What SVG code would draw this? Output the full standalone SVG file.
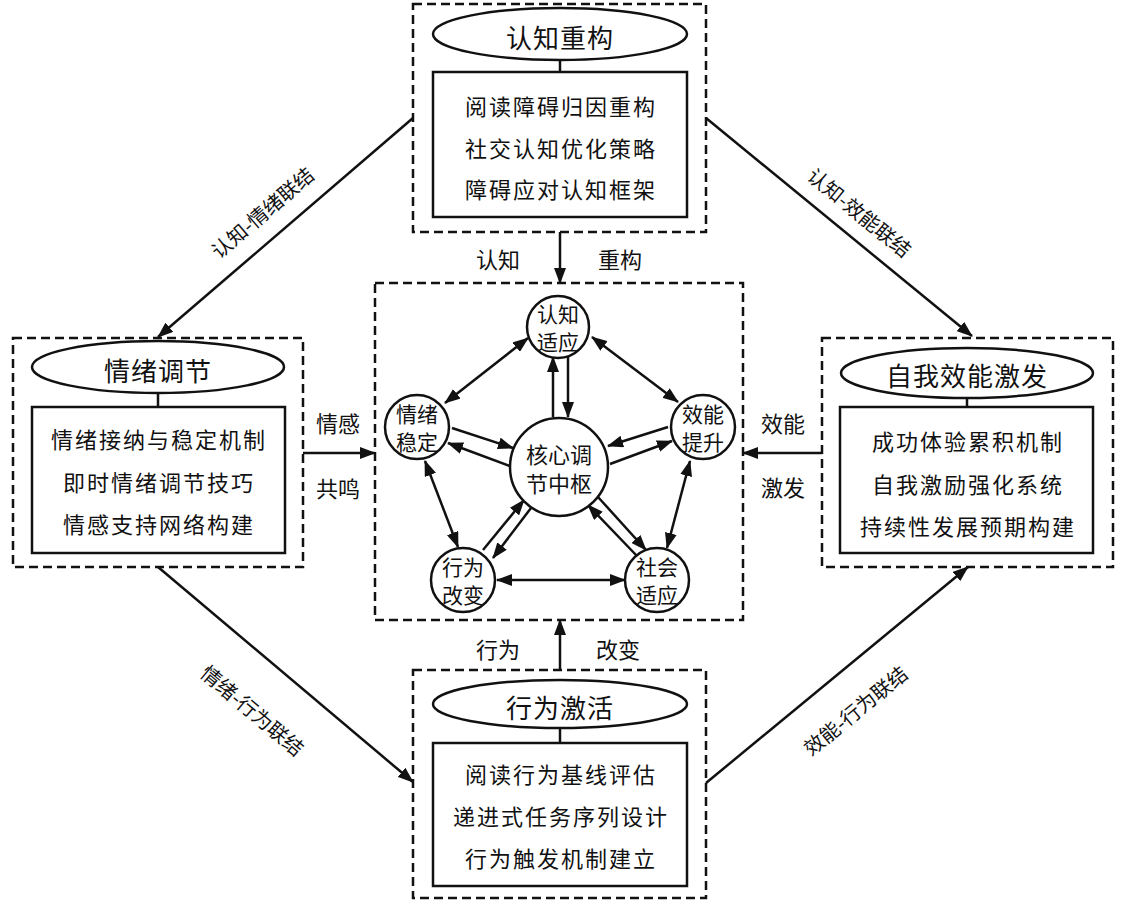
<svg xmlns="http://www.w3.org/2000/svg" width="1122" height="906" viewBox="0 0 1122 906">
<style>
text{font-family:"Noto Sans CJK SC","Noto Sans CJK JP",sans-serif;fill:#111;text-anchor:middle;dominant-baseline:central}
.dash{fill:none;stroke:#111;stroke-width:2.5;stroke-dasharray:9 5}
.box{fill:#fff;stroke:#111;stroke-width:2.5}
.ell{fill:#fff;stroke:#111;stroke-width:2.5}
.cir{fill:#fff;stroke:#111;stroke-width:2.5}
.ln{stroke:#111;stroke-width:2.5;fill:none}
.arr{stroke:#111;stroke-width:2.5;fill:none;marker-end:url(#ah)}
.darr{stroke:#111;stroke-width:2.5;fill:none;marker-end:url(#ah);marker-start:url(#ah)}
.t{font-size:22px;letter-spacing:2px}
.h{font-size:26px;letter-spacing:1px}
.c{font-size:22px}
.s{font-size:21px}
.l{font-size:20px}
</style>
<defs>
<marker id="ah" viewBox="0 0 16 12" refX="15" refY="6" markerWidth="16" markerHeight="12" markerUnits="userSpaceOnUse" orient="auto-start-reverse">
<path d="M0,0 L16,6 L0,12 Z" fill="#111"/>
</marker>
</defs>

<g id="cognitive">
<rect class="dash" x="413" y="4" width="293" height="228"/>
<ellipse class="ell" cx="560" cy="34" rx="127" ry="26"/>
<text class="h" x="560" y="36">认知重构</text>
<line class="ln" x1="560" y1="60" x2="560" y2="72"/>
<rect class="box" x="433" y="72" width="254" height="145"/>
<text class="t" x="561" y="105">阅读障碍归因重构</text>
<text class="t" x="561" y="147">社交认知优化策略</text>
<text class="t" x="561" y="188">障碍应对认知框架</text>
</g>

<g id="emotion">
<rect class="dash" x="13" y="338" width="290" height="229"/>
<ellipse class="ell" cx="158" cy="367" rx="126" ry="26"/>
<text class="h" x="158" y="369">情绪调节</text>
<line class="ln" x1="158" y1="393" x2="158" y2="407"/>
<rect class="box" x="32" y="407" width="253" height="146"/>
<text class="t" x="159" y="438">情绪接纳与稳定机制</text>
<text class="t" x="159" y="481">即时情绪调节技巧</text>
<text class="t" x="159" y="523">情感支持网络构建</text>
</g>

<g id="efficacy">
<rect class="dash" x="822" y="338" width="291" height="229"/>
<ellipse class="ell" cx="967" cy="373" rx="126" ry="25"/>
<text class="h" x="967" y="374">自我效能激发</text>
<line class="ln" x1="967" y1="398" x2="967" y2="407"/>
<rect class="box" x="840" y="407" width="253" height="146"/>
<text class="t" x="968" y="440">成功体验累积机制</text>
<text class="t" x="968" y="483">自我激励强化系统</text>
<text class="t" x="968" y="525">持续性发展预期构建</text>
</g>

<g id="behavior">
<rect class="dash" x="413" y="670" width="293" height="228"/>
<ellipse class="ell" cx="560" cy="704" rx="127" ry="24"/>
<text class="h" x="560" y="706">行为激活</text>
<line class="ln" x1="560" y1="728" x2="560" y2="743"/>
<rect class="box" x="433" y="743" width="254" height="143"/>
<text class="t" x="561" y="773">阅读行为基线评估</text>
<text class="t" x="561" y="815">递进式任务序列设计</text>
<text class="t" x="561" y="857">行为触发机制建立</text>
</g>

<g id="center">
<rect class="dash" x="375" y="283" width="368" height="337"/>
</g>

<g id="connectors">
<line class="arr" x1="560" y1="232" x2="560" y2="283"/>
<line class="arr" x1="560" y1="670" x2="560" y2="620"/>
<line class="arr" x1="303" y1="453" x2="375" y2="453"/>
<line class="arr" x1="822" y1="453" x2="743" y2="453"/>
<line class="arr" x1="413" y1="118" x2="158" y2="337"/>
<line class="arr" x1="706" y1="118" x2="972" y2="336"/>
<line class="arr" x1="158" y1="567" x2="413" y2="782"/>
<line class="arr" x1="706" y1="783" x2="968" y2="567"/>

<line class="darr" x1="528" y1="338" x2="445" y2="403"/>
<line class="darr" x1="592" y1="337" x2="678" y2="402"/>
<line class="arr" x1="553" y1="417" x2="553" y2="357"/>
<line class="arr" x1="568" y1="357" x2="568" y2="417"/>
<line class="arr" x1="452" y1="428" x2="513" y2="448"/>
<line class="arr" x1="510" y1="466" x2="448" y2="443"/>
<line class="arr" x1="668" y1="427" x2="608" y2="446"/>
<line class="arr" x1="610" y1="464" x2="672" y2="441"/>
<line class="darr" x1="425" y1="461" x2="458" y2="547"/>
<line class="darr" x1="690" y1="461" x2="667" y2="548"/>
<line class="arr" x1="483" y1="550" x2="524" y2="500"/>
<line class="arr" x1="531" y1="508" x2="493" y2="558"/>
<line class="arr" x1="598" y1="497" x2="646" y2="550"/>
<line class="arr" x1="637" y1="556" x2="588" y2="505"/>
<line class="darr" x1="497" y1="580" x2="625" y2="580"/>
</g>

<g id="node-cog-adapt">
<circle class="cir" cx="558" cy="327" r="31"/>
<text class="s" x="558" y="313">认知</text>
<text class="s" x="558" y="341">适应</text>
</g>
<g id="node-emo-stable">
<circle class="cir" cx="417" cy="427" r="32"/>
<text class="s" x="417" y="413">情绪</text>
<text class="s" x="417" y="441">稳定</text>
</g>
<g id="node-eff-up">
<circle class="cir" cx="703" cy="427" r="32"/>
<text class="s" x="703" y="413">效能</text>
<text class="s" x="703" y="441">提升</text>
</g>
<g id="node-core">
<circle class="cir" cx="559" cy="467" r="49"/>
<text class="c" x="559" y="453">核心调</text>
<text class="c" x="559" y="482">节中枢</text>
</g>
<g id="node-beh-change">
<circle class="cir" cx="463" cy="580" r="32"/>
<text class="s" x="463" y="566">行为</text>
<text class="s" x="463" y="594">改变</text>
</g>
<g id="node-soc-adapt">
<circle class="cir" cx="657" cy="580" r="32"/>
<text class="s" x="657" y="566">社会</text>
<text class="s" x="657" y="594">适应</text>
</g>

<g id="labels">
<text class="c" x="498" y="258">认知</text>
<text class="c" x="620" y="258">重构</text>
<text class="c" x="498" y="648">行为</text>
<text class="c" x="618" y="648">改变</text>
<text class="c" x="338" y="422">情感</text>
<text class="c" x="338" y="487">共鸣</text>
<text class="c" x="783" y="422">效能</text>
<text class="c" x="783" y="486">激发</text>
<text class="l" transform="translate(262,212) rotate(-40.6)">认知-情绪联结</text>
<text class="l" transform="translate(860,212) rotate(39.2)">认知-效能联结</text>
<text class="l" transform="translate(253,710) rotate(40.1)">情绪-行为联结</text>
<text class="l" transform="translate(855,710) rotate(-39.4)">效能-行为联结</text>
</g>
</svg>
